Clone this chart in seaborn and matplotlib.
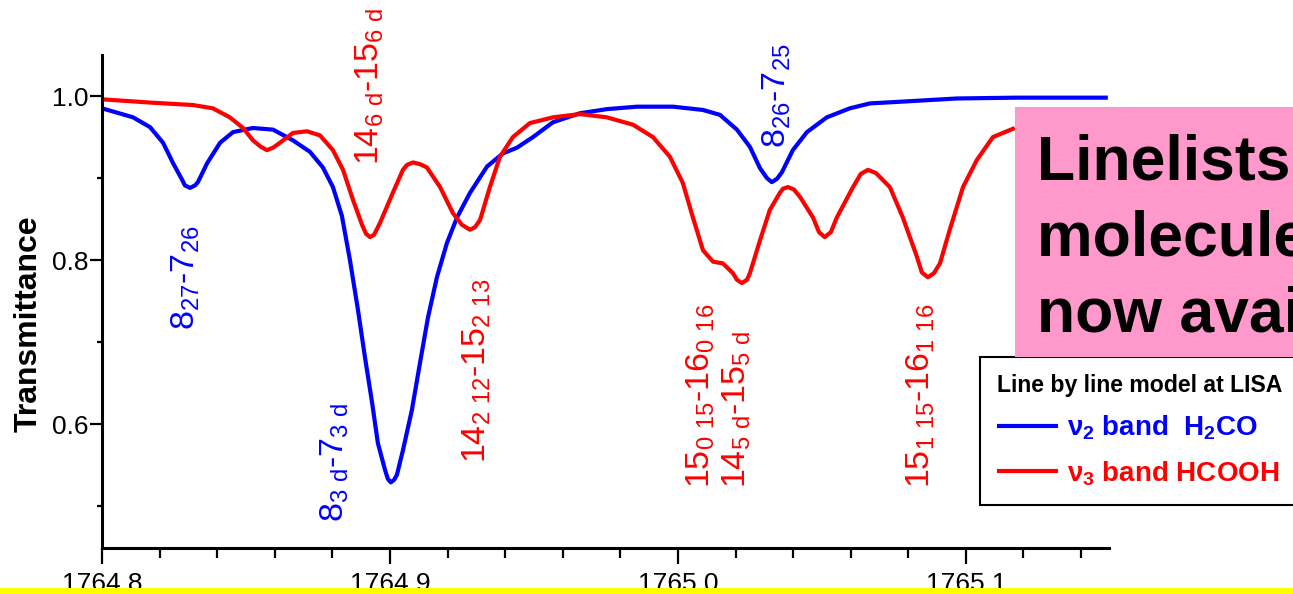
import matplotlib
matplotlib.use("Agg")
import matplotlib.pyplot as plt
from matplotlib import font_manager
from matplotlib.patches import Rectangle
from matplotlib.ticker import MultipleLocator, FixedLocator, FixedFormatter
import seaborn as sns
import pandas as pd

# Modelled transmittance of the nu2 band of H2CO (wavenumber in cm-1)
h2co_wn = [1764.8000, 1764.8108, 1764.8167, 1764.8212, 1764.8247, 1764.8278,
           1764.8288, 1764.8306, 1764.8323, 1764.8333, 1764.8365, 1764.8410,
           1764.8455, 1764.8524, 1764.8594, 1764.8663, 1764.8722, 1764.8767,
           1764.8802, 1764.8833, 1764.8861, 1764.8889, 1764.8913, 1764.8938,
           1764.8958, 1764.8983, 1764.8993, 1764.9003, 1764.9014, 1764.9024,
           1764.9045, 1764.9076, 1764.9104, 1764.9132, 1764.9163, 1764.9198,
           1764.9233, 1764.9278, 1764.9337, 1764.9392, 1764.9441, 1764.9497,
           1764.9566, 1764.9660, 1764.9753, 1764.9858, 1764.9983, 1765.0087,
           1765.0146, 1765.0205, 1765.0250, 1765.0285, 1765.0309, 1765.0326,
           1765.0344, 1765.0361, 1765.0399, 1765.0448, 1765.0517, 1765.0597,
           1765.0667, 1765.0771, 1765.0969, 1765.1177, 1765.1337, 1765.1493]
h2co_tr = [0.985, 0.974, 0.962, 0.943, 0.918, 0.898,
           0.891, 0.888, 0.891, 0.895, 0.918, 0.943,
           0.956, 0.961, 0.959, 0.946, 0.932, 0.913,
           0.889, 0.854, 0.800, 0.739, 0.682, 0.626,
           0.577, 0.544, 0.533, 0.529, 0.532, 0.538,
           0.568, 0.617, 0.674, 0.730, 0.779, 0.821,
           0.852, 0.882, 0.914, 0.930, 0.937, 0.950,
           0.968, 0.979, 0.984, 0.987, 0.987, 0.983,
           0.977, 0.959, 0.938, 0.912, 0.900, 0.895,
           0.899, 0.907, 0.934, 0.956, 0.974, 0.985,
           0.991, 0.993, 0.997, 0.998, 0.998, 0.998]

# Modelled transmittance of the nu3 band of HCOOH
hcooh_wn = [1764.8000, 1764.8167, 1764.8316, 1764.8385, 1764.8444, 1764.8490,
            1764.8524, 1764.8552, 1764.8573, 1764.8594, 1764.8618, 1764.8663,
            1764.8712, 1764.8757, 1764.8802, 1764.8837, 1764.8872, 1764.8903,
            1764.8917, 1764.8931, 1764.8945, 1764.8965, 1764.9010, 1764.9045,
            1764.9059, 1764.9080, 1764.9104, 1764.9128, 1764.9174, 1764.9219,
            1764.9250, 1764.9278, 1764.9295, 1764.9313, 1764.9347, 1764.9382,
            1764.9427, 1764.9486, 1764.9566, 1764.9660, 1764.9753, 1764.9844,
            1764.9913, 1764.9972, 1765.0017, 1765.0052, 1765.0087, 1765.0122,
            1765.0156, 1765.0191, 1765.0205, 1765.0222, 1765.0240, 1765.0250,
            1765.0285, 1765.0319, 1765.0354, 1765.0365, 1765.0382, 1765.0403,
            1765.0424, 1765.0469, 1765.0490, 1765.0510, 1765.0531, 1765.0552,
            1765.0608, 1765.0635, 1765.0660, 1765.0688, 1765.0736, 1765.0781,
            1765.0830, 1765.0847, 1765.0868, 1765.0889, 1765.0910, 1765.0944,
            1765.0990, 1765.1038, 1765.1094, 1765.1170]
hcooh_tr = [0.996, 0.992, 0.989, 0.985, 0.974, 0.961,
            0.946, 0.938, 0.934, 0.937, 0.943, 0.955,
            0.957, 0.952, 0.934, 0.910, 0.873, 0.843,
            0.832, 0.828, 0.831, 0.845, 0.882, 0.910,
            0.916, 0.919, 0.917, 0.913, 0.889, 0.857,
            0.843, 0.837, 0.840, 0.849, 0.889, 0.926,
            0.950, 0.967, 0.974, 0.978, 0.974, 0.965,
            0.950, 0.926, 0.894, 0.852, 0.812, 0.798,
            0.796, 0.784, 0.776, 0.772, 0.776, 0.784,
            0.824, 0.861, 0.882, 0.887, 0.889, 0.886,
            0.877, 0.852, 0.834, 0.828, 0.834, 0.852,
            0.889, 0.905, 0.910, 0.906, 0.889, 0.852,
            0.804, 0.785, 0.779, 0.784, 0.796, 0.837,
            0.889, 0.922, 0.950, 0.961]

# Line assignments
h2co_assignments = ["8$_{27}$-7$_{26}$", "8$_{3\\ d}$-7$_{3\\ d}$", "8$_{26}$-7$_{25}$"]
hcooh_assignments = ["14$_{6\\ d}$-15$_{6\\ d}$", "14$_{2\\ 12}$-15$_{2\\ 13}$",
                     "15$_{0\\ 15}$-16$_{0\\ 16}$", "14$_{5\\ d}$-15$_{5\\ d}$",
                     "15$_{1\\ 15}$-16$_{1\\ 16}$"]

xtick_values = [1764.8, 1764.9, 1765.0, 1765.1]
xtick_labels = ["1764.8", "1764.9", "1765.0", "1765.1"]
ytick_values = [0.6, 0.8, 1.0]
ytick_labels = ["0.6", "0.8", "1.0"]

series_labels = ["\u03bd$_2$ band  H$_2$CO", "\u03bd$_3$ band HCOOH"]
legend_title = "Line by line model at LISA"
banner_lines = ["Linelists for", "molecules are", "now available"]

# ---------------------------------------------------------------- style
sns.set_style("ticks")
plt.rcParams["font.family"] = ["Liberation Sans", "DejaVu Sans"]
plt.rcParams["mathtext.default"] = "regular"
for key in ("text.color", "axes.labelcolor", "xtick.color", "ytick.color",
            "axes.edgecolor"):
    plt.rcParams[key] = "black"

installed = {f.name for f in font_manager.fontManager.ttflist}
if "Liberation Sans Narrow" in installed:
    title_font = {"family": "Liberation Sans Narrow", "weight": "bold", "size": 20}
else:
    title_font = {"family": "Liberation Sans", "weight": "bold", "size": 16.6}

BLUE = "#0000FF"
RED = "#FF0000"

W, H = 1293, 594
fig = plt.figure(figsize=(W / 100, H / 100), dpi=100)
ax = fig.add_axes([102 / W, 1 - 548 / H, (1109 - 102) / W, (548 - 55) / H])

df_h2co = pd.DataFrame({"wn": h2co_wn, "tr": h2co_tr})
df_hcooh = pd.DataFrame({"wn": hcooh_wn, "tr": hcooh_tr})

sns.lineplot(data=df_h2co, x="wn", y="tr", ax=ax, color=BLUE, linewidth=3.0,
             label=series_labels[0], solid_joinstyle="round", solid_capstyle="butt")
sns.lineplot(data=df_hcooh, x="wn", y="tr", ax=ax, color=RED, linewidth=3.0,
             label=series_labels[1], solid_joinstyle="round", solid_capstyle="butt")

ax.set_xlim(1764.8, 1765.1497)
ax.set_ylim(0.449, 1.05)

ax.xaxis.set_major_locator(FixedLocator(xtick_values))
ax.xaxis.set_major_formatter(FixedFormatter(xtick_labels))
ax.xaxis.set_minor_locator(MultipleLocator(0.02))
ax.yaxis.set_major_locator(FixedLocator(ytick_values))
ax.yaxis.set_major_formatter(FixedFormatter(ytick_labels))
ax.yaxis.set_minor_locator(FixedLocator([0.5, 0.7, 0.9]))

for side in ("top", "right"):
    ax.spines[side].set_visible(False)
for side in ("left", "bottom"):
    ax.spines[side].set_linewidth(2.2)
    ax.spines[side].set_color("black")

ax.tick_params(axis="x", which="major", direction="out", length=11.5, width=1.6,
               labelsize=19, pad=6, colors="black")
ax.tick_params(axis="x", which="minor", direction="out", length=7, width=1.6)
ax.tick_params(axis="y", which="major", direction="out", length=8.6, width=1.6,
               labelsize=19, pad=1, colors="black")
ax.tick_params(axis="y", which="minor", direction="out", length=3.6, width=1.6)

ax.set_xlabel("")
ax.set_ylabel("Transmittance", fontsize=23, fontweight="bold", color="black")
ax.yaxis.set_label_coords(-0.058, 0.456)

# Rotated assignment labels: (centre wavenumber, lower end in transmittance)
h2co_label_pos = [(1764.8290, 0.7146), (1764.8807, 0.4805), (1765.0342, 0.9366)]
hcooh_label_pos = [(1764.8929, 0.9159), (1764.9300, 0.5524), (1765.0078, 0.5220),
                   (1765.0203, 0.5220), (1765.0845, 0.5220)]
for txt, (x, y) in zip(h2co_assignments, h2co_label_pos):
    ax.text(x, y, txt, color=BLUE, fontsize=24.5, rotation=90, ha="center",
            va="bottom", clip_on=False)
for txt, (x, y) in zip(hcooh_assignments, hcooh_label_pos):
    ax.text(x, y, txt, color=RED, fontsize=24.5, rotation=90, ha="center",
            va="bottom", clip_on=False)

# Legend box
handles, _ = ax.get_legend_handles_labels()
leg = ax.legend(handles, series_labels, title=legend_title,
                title_fontproperties=title_font,
                prop={"weight": "bold", "size": 20},
                labelcolor="linecolor", alignment="left",
                loc="upper left", mode="expand",
                bbox_to_anchor=(980 / W, 1 - 503 / H, 0.35, 146 / H),
                bbox_transform=fig.transFigure, borderaxespad=0,
                handlelength=2.2, handletextpad=0.3, borderpad=0.62,
                labelspacing=0.6, fancybox=False, framealpha=1,
                edgecolor="black", facecolor="white")
leg.get_frame().set_linewidth(1.5)
leg.get_title().set_color("black")
for line in leg.get_lines():
    line.set_linewidth(3.0)

# Banner
fig.patches.append(Rectangle((1015 / W, 1 - 357 / H), 0.3, (357 - 107) / H,
                             transform=fig.transFigure, facecolor="#FF99CC",
                             edgecolor="none", zorder=5))
for txt, base in zip(banner_lines, [180, 256, 332]):
    fig.text(1037 / W, 1 - base / H, txt, fontsize=45, fontweight="bold",
             color="black", ha="left", va="baseline", zorder=6)

# Yellow strip along the bottom edge
fig.patches.append(Rectangle((0, 0), 1, 6 / H, transform=fig.transFigure,
                             facecolor="#FFFF00", edgecolor="none", zorder=7))

fig.savefig("out.png", dpi=100)
